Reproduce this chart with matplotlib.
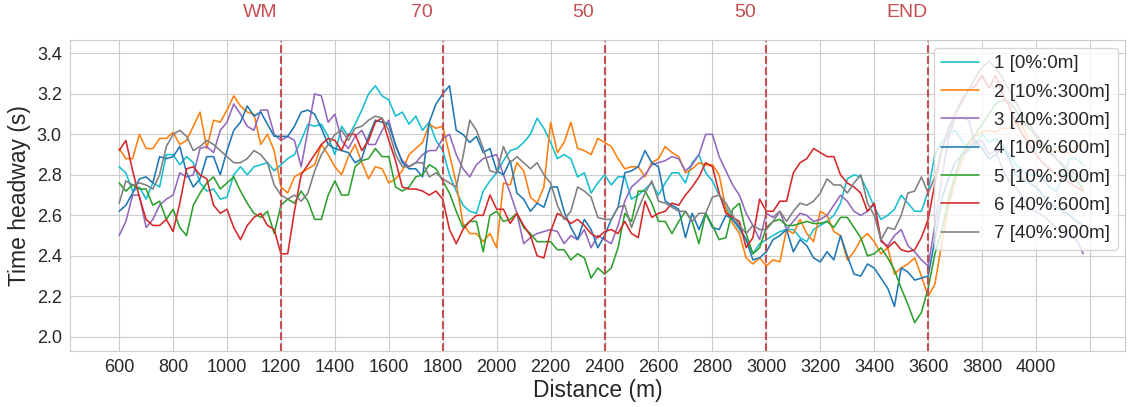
import numpy as np
import matplotlib
matplotlib.use("Agg")
import matplotlib.pyplot as plt
import seaborn as sns

sns.set_style("whitegrid")
plt.rcParams["font.family"] = ["Liberation Sans", "DejaVu Sans"]

# distance grid (m), one sample every 25 m
distance = np.arange(600, 4176, 25)

labels = ["1 [0%:0m]", "2 [10%:300m]", "3 [40%:300m]", "4 [10%:600m]",
          "5 [10%:900m]", "6 [40%:600m]", "7 [40%:900m]"]
colors = ["#17becf", "#ff7f0e", "#9467bd", "#1f77b4", "#2ca02c", "#d62728", "#7f7f7f"]

s1 = [2.84, 2.81, 2.72, 2.74, 2.68, 2.76, 2.74, 2.90,
      2.90, 2.85, 2.89, 2.86, 2.76, 2.72, 2.73, 2.68,
      2.69, 2.80, 2.84, 2.80, 2.84, 2.85, 2.86, 2.82,
      2.85, 2.88, 2.90, 2.97, 3.05, 3.04, 3.05, 2.99,
      2.90, 3.04, 2.99, 3.05, 3.12, 3.20, 3.24, 3.19,
      3.17, 3.09, 3.11, 3.05, 3.09, 3.02, 3.06, 2.97,
      2.92, 2.80, 2.72, 2.65, 2.62, 2.61, 2.72, 2.77,
      2.81, 2.87, 2.92, 2.93, 2.96, 3.00, 3.08, 3.03,
      2.96, 2.88, 2.90, 2.88, 2.79, 2.81, 2.71, 2.76,
      2.80, 2.75, 2.79, 2.79, 2.68, 2.70, 2.73, 2.76,
      2.70, 2.76, 2.81, 2.81, 2.76, 2.86, 2.90, 2.81,
      2.77, 2.70, 2.64, 2.58, 2.53, 2.48, 2.41, 2.46,
      2.48, 2.50, 2.52, 2.53, 2.53, 2.49, 2.47, 2.53,
      2.55, 2.57, 2.60, 2.66, 2.78, 2.80, 2.79, 2.72,
      2.64, 2.58, 2.60, 2.63, 2.70, 2.66, 2.62, 2.62,
      2.72, 2.90, 2.96, 3.00, 3.02, 2.97, 2.93, 2.95,
      3.00, 2.96, 2.98, 2.95, 2.90, 2.85, 2.82, 2.80,
      2.80, 2.78, 2.74, 2.72, 2.79, 2.88, 2.88, 2.85]

s2 = [2.93, 2.88, 2.88, 3.00, 2.93, 2.93, 2.98, 2.98,
      3.01, 2.95, 2.97, 3.04, 3.11, 2.93, 3.07, 3.06,
      3.12, 3.19, 3.14, 3.11, 3.10, 2.95, 3.00, 2.92,
      2.74, 2.71, 2.79, 2.81, 2.83, 2.85, 2.95, 2.90,
      2.84, 2.80, 2.89, 2.95, 2.86, 2.78, 2.84, 2.83,
      2.76, 2.78, 2.82, 2.90, 2.93, 2.96, 3.05, 3.03,
      3.04, 2.90, 2.76, 2.56, 2.51, 2.51, 2.47, 2.51,
      2.44, 2.76, 2.75, 2.86, 2.82, 2.69, 2.66, 2.74,
      3.06, 2.91, 2.96, 3.06, 2.93, 2.92, 2.90, 2.98,
      2.96, 2.94, 2.88, 2.83, 2.84, 2.84, 2.79, 2.86,
      2.88, 2.94, 2.91, 2.89, 2.81, 2.83, 2.86, 2.85,
      2.85, 2.80, 2.63, 2.56, 2.51, 2.39, 2.36, 2.39,
      2.35, 2.38, 2.37, 2.53, 2.51, 2.58, 2.51, 2.47,
      2.62, 2.60, 2.52, 2.50, 2.38, 2.42, 2.48, 2.51,
      2.47, 2.41, 2.44, 2.31, 2.34, 2.36, 2.39, 2.30,
      2.20, 2.26, 2.46, 2.64, 2.77, 2.87, 2.94, 2.99,
      3.01, 3.02, 3.01, 3.03, 3.03, 3.06, 3.04, 2.97,
      2.97, 2.94, 2.91, 2.92, 2.91, 2.91, 2.94, 2.95]

s3 = [2.50, 2.57, 2.70, 2.70, 2.54, 2.58, 2.65, 2.68,
      2.70, 2.81, 2.79, 2.80, 2.93, 2.94, 2.91, 3.02,
      3.06, 3.15, 3.10, 3.04, 3.02, 3.12, 3.12, 3.00,
      2.97, 2.99, 2.97, 2.84, 3.02, 3.20, 3.19, 3.06,
      3.10, 2.97, 2.93, 2.99, 3.02, 2.95, 2.95, 3.02,
      3.07, 2.94, 2.87, 2.84, 2.86, 2.90, 2.92, 2.92,
      2.98, 3.00, 2.90, 2.83, 2.79, 2.85, 2.88, 2.89,
      2.90, 2.80, 2.71, 2.61, 2.46, 2.49, 2.51, 2.52,
      2.53, 2.52, 2.46, 2.50, 2.48, 2.53, 2.44, 2.50,
      2.48, 2.46, 2.55, 2.67, 2.74, 2.77, 2.80, 2.85,
      2.86, 2.87, 2.89, 2.88, 2.82, 2.85, 2.90, 3.00,
      3.00, 2.89, 2.82, 2.75, 2.70, 2.61, 2.55, 2.48,
      2.61, 2.59, 2.62, 2.53, 2.57, 2.61, 2.60, 2.57,
      2.58, 2.60, 2.65, 2.70, 2.67, 2.62, 2.60, 2.62,
      2.66, 2.47, 2.45, 2.50, 2.53, 2.45, 2.42, 2.38,
      2.35, 2.55, 2.78, 2.98, 3.08, 3.08, 3.07, 2.95,
      2.97, 2.90, 2.92, 2.83, 2.77, 2.74, 2.69, 2.63,
      2.62, 2.60, 2.57, 2.54, 2.52, 2.49, 2.48, 2.41]

s4 = [2.62, 2.65, 2.71, 2.78, 2.79, 2.76, 2.89, 2.88,
      2.89, 2.94, 2.81, 2.74, 2.78, 2.89, 2.89, 2.80,
      2.92, 3.02, 3.06, 3.14, 3.09, 3.11, 3.05, 2.99,
      2.99, 2.99, 3.04, 3.11, 3.12, 3.10, 3.03, 2.95,
      2.93, 2.92, 2.91, 2.86, 2.88, 2.99, 3.07, 3.06,
      3.05, 2.95, 2.86, 2.83, 2.83, 2.79, 3.06, 3.15,
      3.20, 3.24, 3.02, 3.00, 2.96, 2.99, 2.91, 2.93,
      2.82, 2.80, 2.87, 2.71, 2.68, 2.62, 2.66, 2.64,
      2.74, 2.74, 2.62, 2.54, 2.48, 2.58, 2.53, 2.44,
      2.50, 2.58, 2.64, 2.81, 2.82, 2.84, 2.92, 2.86,
      2.84, 2.67, 2.65, 2.63, 2.49, 2.61, 2.53, 2.61,
      2.54, 2.53, 2.60, 2.58, 2.54, 2.48, 2.38, 2.39,
      2.42, 2.48, 2.50, 2.53, 2.42, 2.48, 2.45, 2.39,
      2.37, 2.42, 2.38, 2.50, 2.40, 2.31, 2.30, 2.36,
      2.34, 2.29, 2.24, 2.15, 2.34, 2.32, 2.28, 2.29,
      2.30, 2.48, 2.68, 2.78, 2.86, 2.90, 2.92, 2.97,
      2.93, 2.88, 2.90, 2.94, 2.88, 2.80, 2.78, 2.76,
      2.74, 2.70, 2.66, 2.64, 2.62, 2.60, 2.57, 2.55]

s5 = [2.76, 2.72, 2.75, 2.73, 2.73, 2.65, 2.67, 2.58,
      2.63, 2.54, 2.50, 2.65, 2.71, 2.76, 2.79, 2.73,
      2.76, 2.79, 2.72, 2.66, 2.61, 2.59, 2.62, 2.51,
      2.65, 2.68, 2.66, 2.72, 2.67, 2.58, 2.58, 2.70,
      2.77, 2.70, 2.70, 2.84, 2.87, 2.88, 2.93, 2.89,
      2.89, 2.74, 2.72, 2.74, 2.79, 2.80, 2.85, 2.83,
      2.77, 2.71, 2.62, 2.54, 2.57, 2.57, 2.42, 2.60,
      2.62, 2.57, 2.58, 2.61, 2.54, 2.51, 2.47, 2.47,
      2.47, 2.43, 2.43, 2.38, 2.41, 2.39, 2.29, 2.34,
      2.31, 2.34, 2.44, 2.61, 2.57, 2.72, 2.72, 2.66,
      2.57, 2.57, 2.51, 2.57, 2.62, 2.57, 2.46, 2.61,
      2.55, 2.48, 2.49, 2.63, 2.66, 2.51, 2.41, 2.44,
      2.54, 2.57, 2.58, 2.55, 2.55, 2.56, 2.57, 2.56,
      2.56, 2.57, 2.54, 2.59, 2.59, 2.54, 2.49, 2.40,
      2.41, 2.44, 2.39, 2.33, 2.24, 2.16, 2.07, 2.12,
      2.24, 2.41, 2.52, 2.68, 2.80, 2.90, 2.96, 3.00,
      3.05, 3.10, 3.15, 3.17, 3.16, 3.12, 3.07, 3.03,
      2.99, 2.95, 2.91, 2.88, 2.84, 2.80, 2.77, 2.73]

s6 = [2.92, 2.97, 2.82, 2.69, 2.58, 2.55, 2.55, 2.58,
      2.52, 2.66, 2.83, 2.84, 2.80, 2.78, 2.65, 2.61,
      2.63, 2.54, 2.48, 2.55, 2.59, 2.61, 2.55, 2.53,
      2.41, 2.41, 2.62, 2.80, 2.85, 2.90, 2.95, 2.98,
      2.97, 2.92, 3.00, 3.00, 2.92, 2.97, 3.06, 3.08,
      2.97, 2.87, 2.74, 2.73, 2.73, 2.72, 2.70, 2.72,
      2.68, 2.53, 2.46, 2.53, 2.57, 2.60, 2.60, 2.70,
      2.63, 2.63, 2.56, 2.61, 2.55, 2.50, 2.40, 2.39,
      2.52, 2.61, 2.59, 2.56, 2.58, 2.55, 2.51, 2.49,
      2.52, 2.53, 2.51, 2.57, 2.51, 2.49, 2.67, 2.59,
      2.61, 2.62, 2.66, 2.65, 2.70, 2.74, 2.79, 2.86,
      2.84, 2.71, 2.61, 2.59, 2.57, 2.44, 2.49, 2.68,
      2.62, 2.62, 2.67, 2.67, 2.81, 2.86, 2.88, 2.93,
      2.91, 2.89, 2.89, 2.80, 2.76, 2.74, 2.71, 2.62,
      2.66, 2.48, 2.44, 2.47, 2.43, 2.42, 2.43, 2.49,
      2.58, 2.76, 2.92, 3.02, 3.10, 3.17, 3.22, 3.24,
      3.29, 3.23, 3.29, 3.20, 3.14, 3.06, 3.00, 2.95,
      2.90, 2.86, 2.83, 2.80, 2.78, 2.76, 2.74, 2.72]

s7 = [2.66, 2.77, 2.75, 2.76, 2.75, 2.73, 2.80, 2.94,
      3.00, 3.02, 2.99, 2.92, 2.94, 2.97, 2.95, 2.92,
      2.89, 2.86, 2.86, 2.88, 2.92, 2.90, 2.86, 2.75,
      2.70, 2.68, 2.70, 2.67, 2.71, 2.82, 2.90, 2.95,
      3.00, 3.02, 2.97, 3.03, 3.04, 3.07, 3.09, 3.08,
      3.02, 2.90, 2.84, 2.84, 2.86, 2.86, 2.79, 2.81,
      2.78, 2.76, 2.74, 2.89, 3.07, 3.02, 2.93, 2.82,
      2.81, 2.94, 2.86, 2.89, 2.86, 2.83, 2.86, 2.80,
      2.76, 2.65, 2.58, 2.62, 2.74, 2.72, 2.69, 2.59,
      2.58, 2.58, 2.64, 2.65, 2.54, 2.63, 2.71, 2.77,
      2.67, 2.66, 2.64, 2.62, 2.62, 2.57, 2.61, 2.61,
      2.69, 2.70, 2.66, 2.60, 2.55, 2.51, 2.55, 2.53,
      2.53, 2.57, 2.62, 2.57, 2.62, 2.66, 2.65, 2.67,
      2.71, 2.78, 2.75, 2.75, 2.71, 2.76, 2.80, 2.66,
      2.60, 2.48, 2.54, 2.53, 2.60, 2.71, 2.72, 2.79,
      2.71, 2.79, 2.92, 3.03, 3.10, 3.16, 3.22, 3.28,
      3.33, 3.36, 3.33, 3.28, 3.22, 3.16, 3.10, 3.05,
      3.00, 2.96, 2.92, 2.88, 2.85, 2.82, 2.80, 2.77]

series = [s1, s2, s3, s4, s5, s6, s7]

# section boundaries and the sign shown above each one
boundaries = [1200, 1800, 2400, 3000, 3600]
signs = ["WM", "70", "50", "50", "END"]

fig, ax = plt.subplots(figsize=(11.3, 4.07), dpi=100)
fig.subplots_adjust(left=0.062, right=0.9956, bottom=0.1376, top=0.9017)

for vals, lab, col in zip(series, labels, colors):
    ax.plot(distance, vals, color=col, linewidth=1.15, label=lab)

for b, s in zip(boundaries, signs):
    ax.axvline(b, color="#c44e52", linestyle="--", linewidth=1.5)
    ax.text(b - 78, 3.6, s, color="#c44e52", fontsize=14,
            ha="center", va="center", clip_on=False)

ax.set_xlim(418, 4330)
ax.set_ylim(1.93, 3.466)
xt = np.arange(600, 4201, 200)
ax.set_xticks(xt)
ax.set_xticklabels([str(v) if v <= 4000 else "" for v in xt])
ax.set_yticks(np.arange(2.0, 3.41, 0.2))
ax.set_yticklabels([f"{v:.1f}" for v in np.arange(2.0, 3.41, 0.2)])
ax.tick_params(axis="both", labelsize=13, length=0, pad=6, labelcolor="#262626")

ax.set_xlabel("Distance (m)", fontsize=16.5, color="#262626", labelpad=2)
ax.set_ylabel("Time headway (s)", fontsize=16.5, color="#262626")

ax.legend(loc="upper right", fontsize=13.5, labelspacing=0.6,
          borderaxespad=0.4)

plt.savefig("out.png", dpi=100)
